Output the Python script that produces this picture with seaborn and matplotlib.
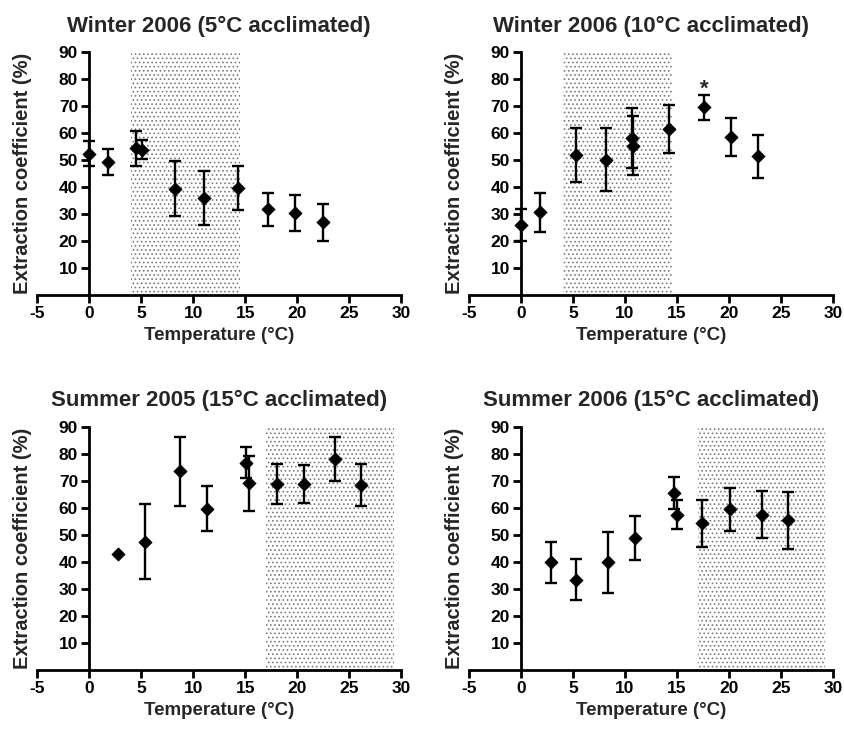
import numpy as np
import pandas as pd
import matplotlib
matplotlib.use("Agg")
import matplotlib.pyplot as plt
import seaborn as sns

# ==============================================================================
# DADOS
# ==============================================================================
titulos = ["Winter 2006 (5°C acclimated)", "Winter 2006 (10°C acclimated)",
           "Summer 2005 (15°C acclimated)", "Summer 2006 (15°C acclimated)"]

w5_temp = [0.0, 1.8, 4.5, 5.1, 8.2, 11.0, 14.3, 17.2, 19.8, 22.5]
w5_ext = [52.5, 49.5, 54.5, 54.0, 39.5, 36.0, 39.8, 31.8, 30.5, 27.0]
w5_err = [4.7, 4.8, 6.5, 3.5, 10.3, 10.0, 8.2, 6.1, 6.7, 7.0]

w10_temp = [0.0, 1.8, 5.3, 8.2, 10.7, 10.8, 14.2, 17.6, 20.2, 22.8]
w10_ext = [26.0, 30.7, 52.0, 50.3, 58.3, 55.5, 61.7, 69.7, 58.8, 51.5]
w10_err = [6.0, 7.2, 10.0, 11.8, 11.2, 10.8, 9.0, 4.7, 7.0, 8.0]

s05_temp = [2.8, 5.4, 8.7, 11.3, 15.1, 15.4, 18.0, 20.6, 23.6, 26.1]
s05_ext = [43.0, 47.6, 73.6, 59.8, 76.8, 69.3, 69.0, 68.8, 78.2, 68.5]
s05_err = [np.nan, 13.9, 12.9, 8.4, 5.8, 10.2, 7.3, 7.0, 8.0, 7.7]

s06_temp = [2.9, 5.3, 8.4, 11.0, 14.7, 15.0, 17.4, 20.1, 23.2, 25.7]
s06_ext = [40.0, 33.5, 40.0, 48.8, 65.5, 57.5, 54.3, 59.5, 57.6, 55.5]
s06_err = [7.6, 7.5, 11.3, 8.2, 6.0, 5.4, 8.7, 8.0, 8.7, 10.5]

# faixa pontilhada (temperatura de início / fim)
faixas = [(4.0, 14.5), (4.0, 14.5), (17.0, 29.3), (17.0, 29.2)]

# asterisco de significância (painel 2)
asterisco = (17.6, 76.5)

x_ticks = [-5, 0, 5, 10, 15, 20, 25, 30]
y_ticks = [10, 20, 30, 40, 50, 60, 70, 80, 90]

# ==============================================================================
# CONFIGURAÇÕES GERAIS
# ==============================================================================
sns.set_theme(style="ticks")
plt.rcParams['font.family'] = ['Liberation Sans', 'DejaVu Sans']
plt.rcParams['font.weight'] = 'bold'
plt.rcParams['hatch.linewidth'] = 0.7
plt.rcParams['hatch.color'] = '#7a7a7a'

paineis = [
    (w5_temp, w5_ext, w5_err),
    (w10_temp, w10_ext, w10_err),
    (s05_temp, s05_ext, s05_err),
    (s06_temp, s06_ext, s06_err),
]

fig = plt.figure(figsize=(8.45, 7.29), dpi=100)
posicoes = [
    [0.044, 0.595, 0.431, 0.333],
    [0.555, 0.595, 0.431, 0.333],
    [0.044, 0.081, 0.431, 0.333],
    [0.555, 0.081, 0.431, 0.333],
]

for i, (temp, ext, err) in enumerate(paineis):
    ax = fig.add_axes(posicoes[i])
    df = pd.DataFrame({'Temperatura': temp, 'Extracao': ext, 'Erro': err})

    x0, x1 = faixas[i]
    ax.axvspan(x0, x1, ymin=0, ymax=1, facecolor='white', edgecolor='#7a7a7a',
               hatch='....', linewidth=0, zorder=0)

    ax.errorbar(df['Temperatura'], df['Extracao'], yerr=df['Erro'], fmt='none',
                ecolor='black', elinewidth=1.7, capsize=4, capthick=1.7, zorder=2)
    sns.scatterplot(data=df, x='Temperatura', y='Extracao', marker='D', s=45,
                    color='black', edgecolor='black', ax=ax, zorder=3, legend=False)

    if i == 1:
        ax.text(asterisco[0], asterisco[1], '*', ha='center', va='center',
                fontsize=16, fontweight='bold')

    ax.set_xlim(-5, 30)
    ax.set_ylim(0, 90)
    ax.set_xticks(x_ticks)
    ax.set_xticklabels([str(t) for t in x_ticks])
    ax.set_yticks(y_ticks)
    ax.set_yticklabels([str(t) for t in y_ticks])

    ax.spines['left'].set_position(('data', 0))
    ax.spines['right'].set_visible(False)
    ax.spines['top'].set_visible(False)
    ax.spines['left'].set_linewidth(2)
    ax.spines['bottom'].set_linewidth(2)
    ax.spines['left'].set_color('black')
    ax.spines['bottom'].set_color('black')
    ax.tick_params(axis='both', width=2, length=6, colors='black',
                   labelsize=12.5, pad=2)
    ax.patch.set_alpha(0)

    ax.set_title(titulos[i], fontsize=16, fontweight='bold', pad=15)
    ax.set_xlabel('Temperature (°C)', fontsize=13.5, fontweight='bold', labelpad=4)
    ax.set_ylabel('Extraction coefficient (%)', fontsize=14.5, fontweight='bold')
    ax.yaxis.set_label_coords(-0.014, 0.5)

fig.savefig("out.png", dpi=100, facecolor='white')
